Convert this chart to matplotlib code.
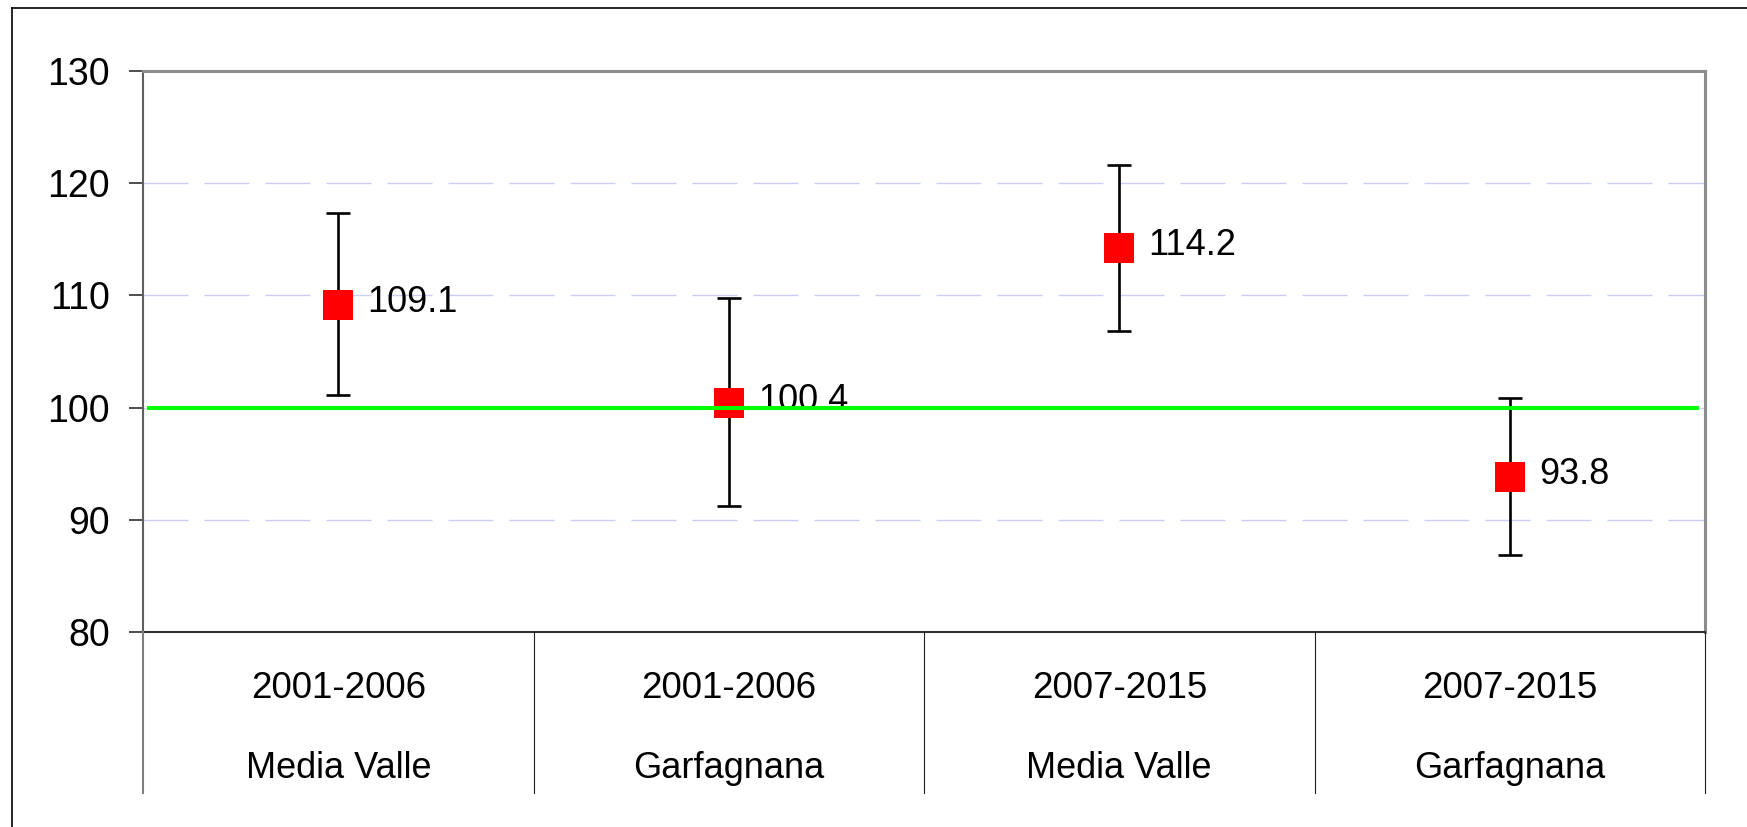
import matplotlib
matplotlib.use("Agg")
import matplotlib.pyplot as plt
from matplotlib.lines import Line2D
from matplotlib.transforms import blended_transform_factory

periods = ["2001-2006", "2001-2006", "2007-2015", "2007-2015"]
areas = ["Media Valle", "Garfagnana", "Media Valle", "Garfagnana"]
values = [109.1, 100.4, 114.2, 93.8]
lower = [101.1, 91.2, 106.8, 86.9]
upper = [117.3, 109.8, 121.6, 100.9]
labels = ["109.1", "100.4", "114.2", "93.8"]
reference = 100
yticks = [80, 90, 100, 110, 120, 130]

plt.rcParams['font.family'] = ['Liberation Sans', 'DejaVu Sans']

W, H = 1747, 827
fig = plt.figure(figsize=(W / 100, H / 100), dpi=100)
ax = fig.add_axes([143 / W, 1 - 632 / H, (1705 - 143) / W, (632 - 71) / H])

x = list(range(len(values)))
ax.set_xlim(-0.5, len(values) - 0.5)
ax.set_ylim(80, 130)

# grid
for yv in yticks[1:-1]:
    ax.axhline(yv, color='#ccccf5', lw=1.0, dashes=(45 * 0.72, 16 * 0.72), zorder=1)

yerr = [[v - l for v, l in zip(values, lower)], [u - v for u, v in zip(upper, values)]]
ax.errorbar(x, values, yerr=yerr, fmt='none', ecolor='black', elinewidth=1.9,
            capsize=8.3, capthick=1.9, zorder=3)
ax.plot(x, values, linestyle='none', marker='s', markersize=21, color='#ff0000',
        markeredgewidth=0, zorder=4)

for xi, v, lab in zip(x, values, labels):
    ax.annotate(lab, (xi, v), xytext=(21, 2), textcoords='offset points',
                fontsize=26, va='center', ha='left', color='black', zorder=5)

# reference line (drawn on top)
ax.plot([-0.49, len(values) - 0.515], [reference, reference], color='#00ff00', lw=2.9, zorder=6,
        solid_capstyle='butt')

ax.set_yticks(yticks)
ax.set_yticklabels([str(t) for t in yticks], fontsize=27)
ax.tick_params(axis='y', direction='out', length=10, width=1.3, color='#404040', pad=14)
ax.set_xticks([])

ax.spines['top'].set_color('#8c8c8c')
ax.spines['top'].set_linewidth(2.2)
ax.spines['right'].set_color('#8c8c8c')
ax.spines['right'].set_linewidth(2.2)
ax.spines['left'].set_color('#606060')
ax.spines['left'].set_linewidth(1.5)
ax.spines['bottom'].set_color('#303030')
ax.spines['bottom'].set_linewidth(1.5)

# category table below axis
tr = blended_transform_factory(ax.transData, fig.transFigure)
y_top = 1 - 632 / H
y_bot = 1 - 793 / H
bounds = [i - 0.5 for i in range(len(values) + 1)]
for i, b in enumerate(bounds):
    col = '#808080' if i == 0 else '#202020'
    lw = 1.5 if i == 0 else 0.8
    fig.add_artist(Line2D([b, b], [y_top, y_bot], transform=tr, color=col, lw=lw))
for xi, p, a in zip(x, periods, areas):
    fig.text(xi, 1 - 688 / H, p, transform=tr, ha='center', va='center', fontsize=26.5)
    fig.text(xi, 1 - 769 / H, a, transform=tr, ha='center', va='center', fontsize=26)

# outer frame (top and left visible)
fig.add_artist(Line2D([12 / W, 12 / W], [0, 1 - 8 / H], transform=fig.transFigure,
                      color='black', lw=1.2))
fig.add_artist(Line2D([12 / W, 1], [1 - 8 / H, 1 - 8 / H], transform=fig.transFigure,
                      color='black', lw=1.2))

fig.savefig('out.png', dpi=100)
